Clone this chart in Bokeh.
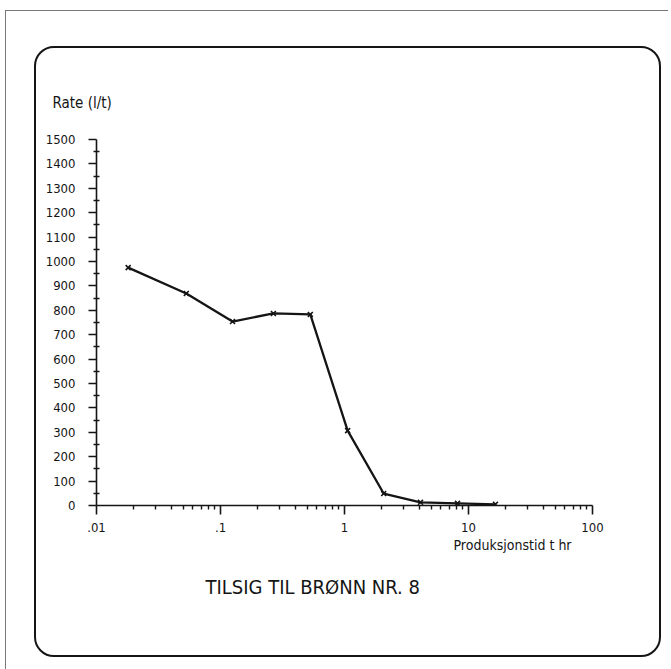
from bokeh.plotting import figure
from bokeh.models import FixedTicker, Title, Range1d
from bokeh.embed import file_html
from bokeh.resources import INLINE

# Data
x_hours = [0.018, 0.053, 0.125, 0.267, 0.53, 1.06, 2.07, 4.1, 8.15, 16.5]
rate = [975, 869, 754, 787, 783, 307, 49, 13, 9, 5]

x_tick_values = [0.01, 0.1, 1, 10, 100]
x_tick_labels = [".01", ".1", "1", "10", "100"]
x_minor_ticks = [m * d for d in (0.01, 0.1, 1, 10) for m in range(2, 10)]
y_tick_values = list(range(0, 1501, 100))
y_minor_ticks = list(range(50, 1500, 100))

title_text = "TILSIG TIL BRØNN NR. 8"
y_label_text = "Rate (l/t)"
x_label_text = "Produksjonstid t hr"

FONT = "DejaVu Sans Condensed, DejaVu Sans"
INK = "#151515"

# sheet frame + rounded drawing frame (decorative page border via CSS)
FRAME_CSS = """
:host::before {
  content: ""; position: absolute; left: 5px; top: 10px; width: 663px; height: 659px;
  background:
    linear-gradient(#777777, #777777) left top / 1px 100% no-repeat,
    linear-gradient(#777777, #777777) left top / 100% 1px no-repeat;
  pointer-events: none; z-index: 5;
}
:host::after {
  content: ""; position: absolute; left: 34px; top: 46px; width: 623px; height: 607px;
  border: 2px solid #151515; border-radius: 20px;
  pointer-events: none; z-index: 6;
}
"""

p = figure(width=671, height=669, x_axis_type="log",
           x_range=Range1d(0.01, 100), y_range=Range1d(0, 1500),
           output_backend="svg", toolbar_location=None, title=None,
           min_border_left=96, min_border_right=79,
           min_border_top=139, min_border_bottom=164,
           stylesheets=[FRAME_CSS])
p.grid.visible = False
p.outline_line_color = None
p.background_fill_color = "white"
p.border_fill_color = "white"

# axes
xa = p.xaxis[0]
xa.ticker = FixedTicker(ticks=x_tick_values, minor_ticks=x_minor_ticks)
xa.major_label_overrides = dict(zip(x_tick_values, x_tick_labels))
xa.major_tick_out = 9
xa.major_tick_in = 0
xa.minor_tick_out = 4
xa.minor_tick_in = 0
xa.major_label_standoff = 8
ya = p.yaxis[0]
ya.ticker = FixedTicker(ticks=y_tick_values, minor_ticks=y_minor_ticks)
ya.major_tick_out = 8
ya.major_tick_in = 0
ya.minor_tick_out = 3
ya.minor_tick_in = 3
ya.major_label_standoff = 13
for ax in (xa, ya):
    ax.axis_line_color = INK
    ax.axis_line_width = 1.6
    ax.major_tick_line_color = INK
    ax.major_tick_line_width = 1.6
    ax.minor_tick_line_color = INK
    ax.minor_tick_line_width = 1.4
    ax.major_label_text_font = FONT
    ax.major_label_text_font_size = "13px"
    ax.major_label_text_color = INK

# data line
p.line(x_hours, rate, line_color=INK, line_width=2.3)
p.scatter(x_hours, rate, marker="x", size=7, line_color=INK, line_width=1.6)

# texts as titles in the side panels
p.add_layout(Title(text=y_label_text, align="left", offset=-44, standoff=55,
                   text_font=FONT, text_font_size="15px", text_font_style="normal",
                   text_color=INK), "above")
p.add_layout(Title(text=x_label_text, align="left", offset=357, standoff=0,
                   text_font=FONT, text_font_size="14px", text_font_style="normal",
                   text_color=INK), "below")
p.add_layout(Title(text=title_text, align="left", offset=109, standoff=40,
                   text_font=FONT, text_font_size="20px", text_font_style="normal",
                   text_color=INK), "below")

open("out.html", "w").write(file_html(p, INLINE))
